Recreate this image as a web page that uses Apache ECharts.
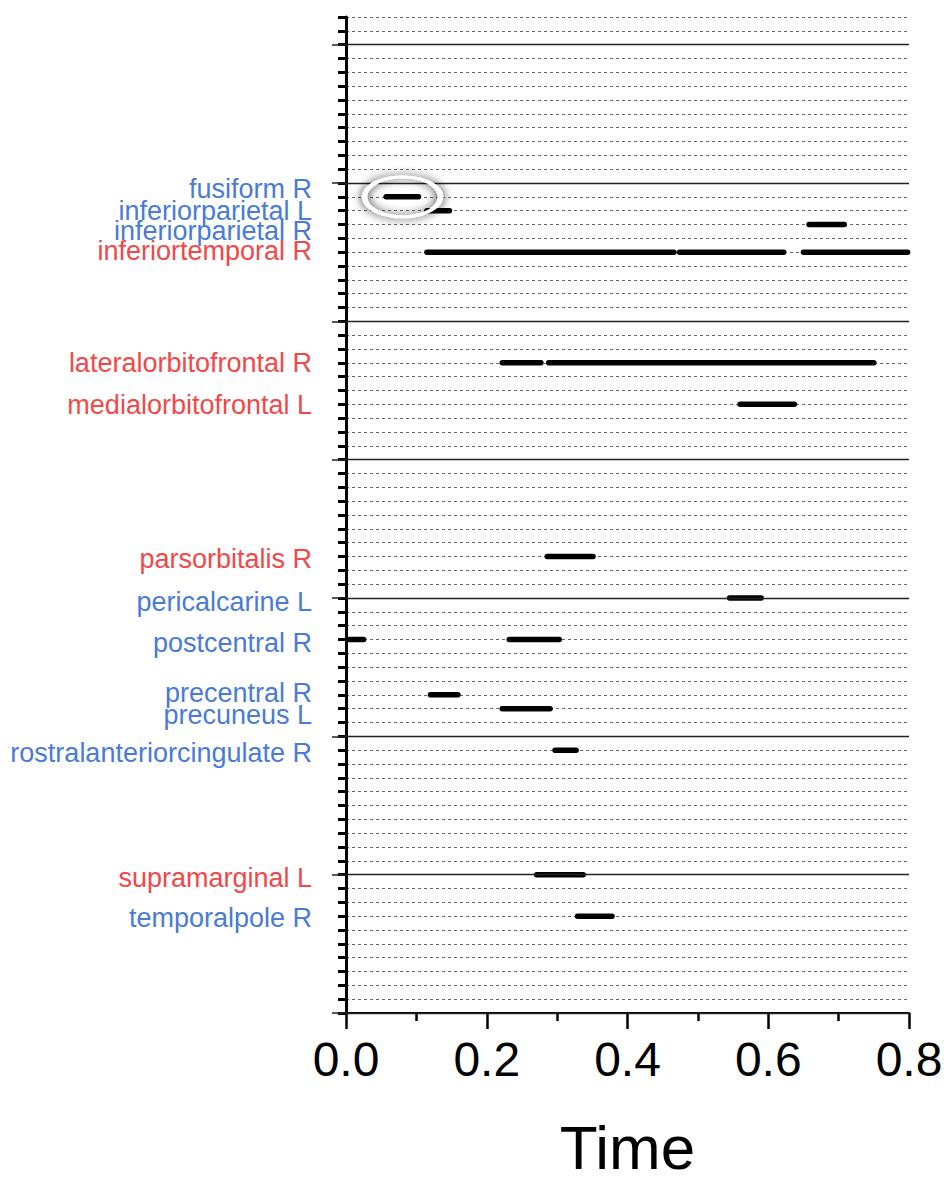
<!DOCTYPE html>
<html>
<head>
<meta charset="utf-8">
<script src="https://cdn.jsdelivr.net/npm/echarts@6/dist/echarts.min.js"></script>
<style>html,body{margin:0;padding:0;background:#fff}#c{width:947px;height:1183px}</style>
</head>
<body>
<div id="c"></div>
<script>
// ---- data ----
const regions = ['fusiform R','inferiorparietal L','inferiorparietal R','inferiortemporal R',
  'lateralorbitofrontal R','medialorbitofrontal L','parsorbitalis R','pericalcarine L',
  'postcentral R','precentral R','precuneus L','rostralanteriorcingulate R',
  'supramarginal L','temporalpole R'];
const regionRows = [59,58,57,55,47,44,33,30,27,23,22,19,10,7];
const regionGroup = ['b','b','b','r','r','r','r','b','b','b','b','b','r','b'];
// segments: region index, start time, end time
const segRegion = [0,1,2,3,3,3,4,4,5,6,7,8,8,9,10,11,12,13];
const segStart  = [0.057,0.115,0.658,0.115,0.474,0.650,0.222,0.288,0.560,0.286,0.545,0.002,0.232,0.120,0.222,0.297,0.271,0.329];
const segEnd    = [0.103,0.147,0.708,0.466,0.622,0.798,0.277,0.750,0.637,0.351,0.590,0.025,0.303,0.159,0.290,0.327,0.337,0.378];
const majorRows = [0,10,20,30,40,50,60,70];
const xTicks = [0,0.2,0.4,0.6,0.8];
const highlight = [0.0803, 59];

// ---- chart ----
const FONT = 'Liberation Sans, Arial, sans-serif';
const colorOf = {b:'#4a7bd6', r:'#f24848'};
// label nudges in px (style only: spreads the crowded labels as in the original figure)
const nudge = {'fusiform R':-8,'inferiorparietal L':0,'inferiorparietal R':6.5,'inferiortemporal R':-1,
  'lateralorbitofrontal R':0,'medialorbitofrontal L':0.5,'parsorbitalis R':2.5,'pericalcarine L':3.5,
  'postcentral R':3,'precentral R':-1.5,'precuneus L':6,'rostralanteriorcingulate R':3,
  'supramarginal L':3.5,'temporalpole R':2};
const rich = {};
regions.forEach((name, i) => {
  const d = nudge[name] || 0;
  rich['s' + i] = {
    color: colorOf[regionGroup[i]], fontSize: 27, fontFamily: FONT,
    padding: [d, 0, -d, 0]
  };
});
const fmt = v => { const i = regionRows.indexOf(v); return i < 0 ? '' : '{s' + i + '|' + regions[i] + '}'; };
// the crowded neighbours get their own (invisible) label axes so that none is dropped
const sideRows1 = [regionRows[1]];
const sideRows2 = [regionRows[2]];
const mainRows = regionRows.filter(r => sideRows1.indexOf(r) < 0 && sideRows2.indexOf(r) < 0);
const labelStyle = rows => ({
  show: true, margin: 34, customValues: rows,
  showMinLabel: true, showMaxLabel: true, hideOverlap: false,
  formatter: fmt, rich: rich
});
const segData = segStart.map((s, i) => [s, segEnd[i], regionRows[segRegion[i]]]);

const chart = echarts.init(document.getElementById('c'), null, {renderer: 'svg'});
chart.setOption({
  animation: false,
  backgroundColor: '#fff',
  grid: {left: 346, right: 38, top: 17, bottom: 170, containLabel: false},
  xAxis: {
    type: 'value', min: 0, max: 0.8, interval: 0.2,
    axisLine: {show: true, lineStyle: {color: '#000', width: 2}},
    axisTick: {show: true, length: 16, lineStyle: {color: '#000', width: 2.5}},
    minorTick: {show: true, splitNumber: 2, length: 8, lineStyle: {color: '#000', width: 2.5}},
    splitLine: {show: false},
    axisLabel: {fontSize: 48, color: '#000', margin: 22, fontFamily: FONT,
      formatter: v => v.toFixed(1), customValues: xTicks, showMinLabel: true, showMaxLabel: true},
    name: 'Time', nameLocation: 'middle', nameGap: 103,
    nameTextStyle: {fontSize: 62, color: '#000', fontFamily: FONT}
  },
  yAxis: [{
    type: 'value', min: 0, max: 72, interval: 1,
    axisLine: {show: true, lineStyle: {color: '#000', width: 3}},
    axisTick: {show: true, length: 8, lineStyle: {color: '#000', width: 3}},
    splitLine: {show: true, lineStyle: {color: '#666', width: 1, type: [3, 3]}},
    axisLabel: labelStyle(mainRows)
  }, {
    type: 'value', min: 0, max: 72, position: 'left',
    axisLine: {show: false},
    axisTick: {show: true, length: 14, customValues: majorRows, lineStyle: {color: '#222', width: 1.5}},
    axisLabel: labelStyle(sideRows1),
    splitLine: {show: false}
  }, {
    type: 'value', min: 0, max: 72, position: 'left',
    axisLine: {show: false},
    axisTick: {show: false},
    axisLabel: labelStyle(sideRows2),
    splitLine: {show: false}
  }],
  series: [{
    type: 'custom',
    xAxisIndex: 0, yAxisIndex: 0,
    data: segData,
    encode: {x: [0, 1], y: 2},
    renderItem: (params, api) => {
      const p1 = api.coord([api.value(0), api.value(2)]);
      const p2 = api.coord([api.value(1), api.value(2)]);
      return {type: 'line', shape: {x1: p1[0], y1: p1[1], x2: p2[0], y2: p2[1]},
        style: {stroke: '#000', lineWidth: 5.5, lineCap: 'round'}, z2: 5};
    },
    markLine: {
      silent: true, symbol: 'none', label: {show: false},
      lineStyle: {color: '#222', width: 1.4, type: 'solid'},
      data: majorRows.map(v => ({yAxis: v}))
    },
    markPoint: {
      silent: true, symbol: 'circle', symbolSize: [76, 40], label: {show: false},
      itemStyle: {color: 'rgba(255,255,255,0)', borderColor: '#fff', borderWidth: 4,
        shadowBlur: 10, shadowColor: 'rgba(0,0,0,0.95)'},
      data: [{coord: highlight}]
    }
  }]
});
</script>
</body>
</html>
